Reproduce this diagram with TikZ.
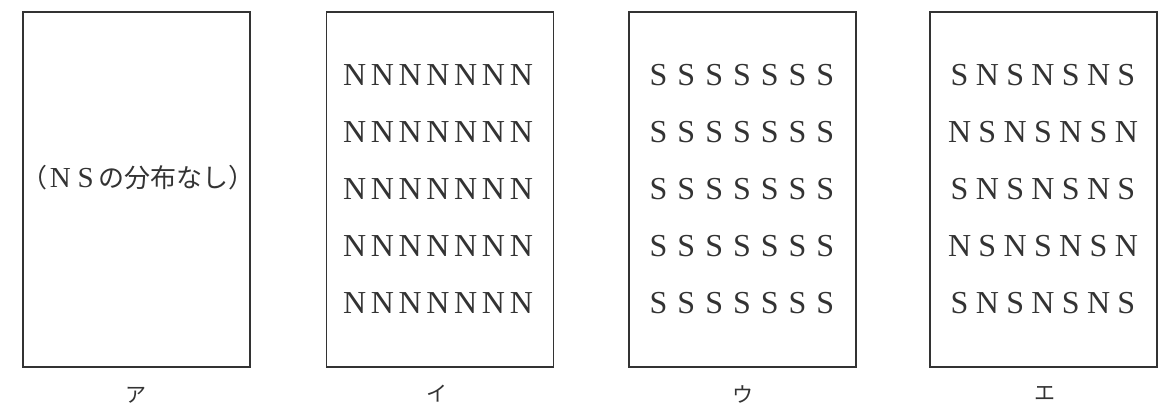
\documentclass[tikz,border=0pt]{standalone}
\usepackage{fontspec}
\setmainfont{Liberation Serif}
\newfontfamily\cjk{Noto Sans CJK JP}
\def\cells#1{\ifx#1\relax\else\makebox[27.8pt]{#1}\expandafter\cells\fi}
\begin{document}
\begin{tikzpicture}[x=1pt,y=-1pt,
  panel/.style={draw=black!80,line width=1.8pt,minimum width=227pt,minimum height=355pt,inner sep=0pt},
  rowtext/.style={font=\fontsize{32}{32}\selectfont,text=black!80,inner sep=0pt},
  caption/.style={font=\cjk\fontsize{21}{21}\selectfont,text=black!80,inner sep=0pt}]
\useasboundingbox (0,0) rectangle (1167,411);
\node[panel] (p1) at (136.5,189.5) {};
\node[panel] (p2) at (440,189.5) {};
\node[panel] (p3) at (742.5,189.5) {};
\node[panel] (p4) at (1043.5,189.5) {};
\node[text=black!80,inner sep=0pt] (t1) at (138,178)
  {\fontsize{26}{26}\selectfont\cjk（\makebox[25.5pt]{\rmfamily\fontsize{29}{29}\selectfont N}\makebox[25.5pt]{\rmfamily\fontsize{29}{29}\selectfont S}の分布なし）};
\foreach \y [count=\i] in {75,132,189,246,303} {
  \node[rowtext] (n\i) at (438,\y) {\cells NNNNNNN\relax};
  \node[rowtext] (s\i) at (742,\y) {\cells SSSSSSS\relax};
}
\foreach \y/\i in {75/1,189/3,303/5} {
  \node[rowtext] (e\i) at (1043,\y) {\cells SNSNSNS\relax};
}
\foreach \y/\i in {132/2,246/4} {
  \node[rowtext] (e\i) at (1043,\y) {\cells NSNSNSN\relax};
}
\node[caption] (c1) at (136,395) {ア};
\node[caption] (c2) at (437,394) {イ};
\node[caption] (c3) at (743,394) {ウ};
\node[caption] (c4) at (1045,393) {エ};
\end{tikzpicture}
\end{document}
